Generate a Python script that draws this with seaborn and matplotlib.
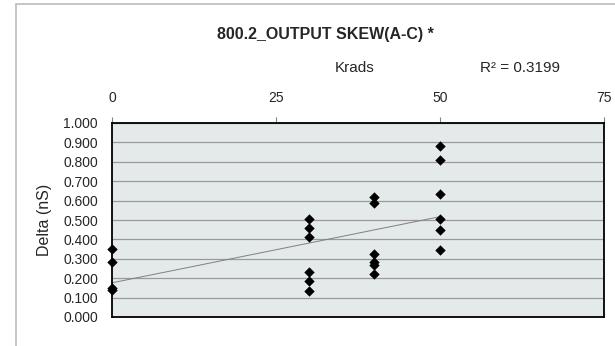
import numpy as np
import pandas as pd
import seaborn as sns
import matplotlib.pyplot as plt

# data
krads = [0, 0, 0, 0,
         30, 30, 30, 30, 30, 30,
         40, 40, 40, 40, 40, 40,
         50, 50, 50, 50, 50, 50]
delta = [0.350, 0.285, 0.150, 0.140,
         0.505, 0.459, 0.412, 0.232, 0.187, 0.134,
         0.620, 0.586, 0.325, 0.285, 0.268, 0.223,
         0.883, 0.811, 0.634, 0.507, 0.447, 0.345]
x_ticks = [0, 25, 50, 75]
y_ticks = [0.0, 0.1, 0.2, 0.3, 0.4, 0.5, 0.6, 0.7, 0.8, 0.9, 1.0]
title = "800.2_OUTPUT SKEW(A-C) *"
r2_text = "R² = 0.3199"

df = pd.DataFrame({"Krads": krads, "Delta": delta})

sns.set_style("white")
plt.rcParams['font.family'] = ['Liberation Sans', 'DejaVu Sans']

fig = plt.figure(figsize=(6.15, 3.46), dpi=100)
ax = fig.add_axes([112 / 615, 29 / 346, 492 / 615, 194 / 346])
ax.set_facecolor("#E4E9E9")

# outer chart border (only left/top visible in the crop)
x0, ytop = 15.5 / 615, 1 - 4 / 346
fig.add_artist(plt.Line2D([x0, x0], [0, ytop], transform=fig.transFigure,
                          color="#C0C0C0", linewidth=1.3))
fig.add_artist(plt.Line2D([x0, 1], [ytop, ytop], transform=fig.transFigure,
                          color="#C0C0C0", linewidth=1.3))

ax.set_axisbelow(True)
ax.yaxis.grid(True, color="#9A9A9A", linewidth=0.9)

# trend line (linear fit over the data range)
sns.regplot(data=df, x="Krads", y="Delta", ax=ax, scatter=False, ci=None,
            truncate=True, line_kws=dict(color="#808080", linewidth=0.7))
sns.scatterplot(data=df, x="Krads", y="Delta", ax=ax, marker="D", s=28,
                color="black", edgecolor="black", linewidth=0, zorder=5,
                clip_on=False)

ax.set_xlim(0, 75)
ax.set_ylim(0, 1)
ax.set_xticks(x_ticks)
ax.set_yticks(y_ticks)
ax.set_yticklabels([f"{v:.3f}" for v in y_ticks])
ax.xaxis.tick_top()
ax.tick_params(axis="both", direction="out", length=4, width=0.8,
               color="#808080", labelsize=10, pad=9)
ax.tick_params(axis="y", pad=6)
ax.set_xlabel("")
ax.set_ylabel("Delta (nS)", fontsize=11.5, labelpad=8)

for sp in ax.spines.values():
    sp.set_color("black")
    sp.set_linewidth(1.3)
    sp.set_visible(True)

fig.text(325 / 615, 1 - 34 / 346, title, ha="center", va="center",
         fontsize=11.5, fontweight="bold")
fig.text(355 / 615, 1 - 68 / 346, "Krads", ha="center", va="center",
         fontsize=11)
fig.text(520 / 615, 1 - 68 / 346, r2_text, ha="center", va="center",
         fontsize=11)

fig.savefig("out.png", dpi=100)
